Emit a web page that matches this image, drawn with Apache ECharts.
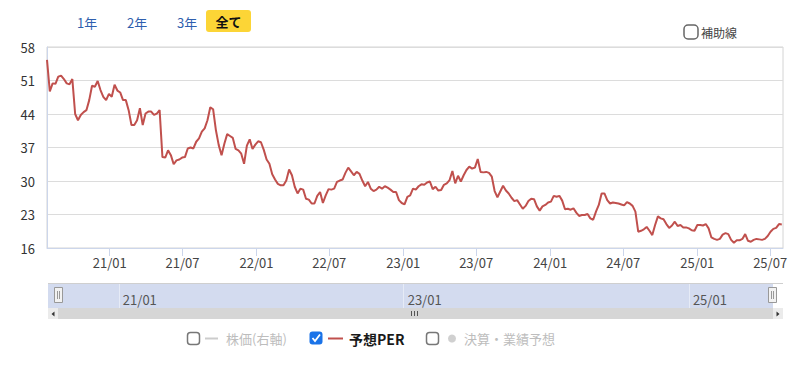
<!DOCTYPE html>
<html><head><meta charset="utf-8">
<script src="https://cdn.jsdelivr.net/npm/echarts@6/dist/echarts.min.js"></script>
<style>html,body{margin:0;padding:0;background:#fff}#c{width:800px;height:365px}</style>
</head><body><div id="c"></div>
<script>
// ---- data ----
const startDate = '2020-07-29';
const stepDays = 7; // weekly readings
const perValues = [
 55.3,48.7,50.4,50.3,51.8,52.0,51.3,50.4,50.2,51.3,
 44.0,42.7,43.8,44.4,44.8,46.9,49.9,49.7,50.9,49.0,
 47.6,46.9,48.2,47.6,50.1,48.9,48.5,46.9,46.9,44.8,
 41.7,41.7,42.7,45.2,41.7,44.1,44.5,44.5,43.8,44.1,
 44.8,35.0,34.9,36.4,35.4,33.5,34.3,34.5,34.9,35.0,
 36.8,37.0,36.8,38.2,38.9,40.3,41.0,42.7,45.4,45.0,
 40.6,37.5,35.4,37.8,39.8,39.4,39.0,
 36.7,36.4,35.7,33.6,37.4,38.7,36.7,37.6,38.3,38.1,
 36.5,34.5,33.6,31.4,30.3,29.4,29.1,29.1,30.1,32.4,
 31.2,28.8,27.4,28.4,28.2,26.3,26.1,25.3,25.3,26.9,
 27.7,25.4,27.0,28.3,28.2,28.4,29.8,30.1,30.3,31.7,
 32.8,32.0,31.2,31.9,31.5,30.1,28.9,29.8,28.4,27.9,
 28.2,28.8,28.4,28.9,28.6,28.2,27.7,27.7,26.0,25.4,
 25.1,26.7,27.0,28.4,28.2,28.9,
 29.3,29.2,29.7,29.9,28.3,28.8,28.0,28.1,29.2,29.5,
 30.2,32.1,29.5,31.1,29.9,31.2,32.3,33.0,32.6,32.8,
 34.6,31.9,31.8,31.9,31.7,30.9,27.9,26.6,27.8,29.0,
 28.0,27.4,26.5,25.8,26.0,25.1,24.2,24.8,25.8,26.3,
 26.2,24.7,23.8,24.7,25.0,25.5,25.7,26.9,26.7,26.9,
 25.9,24.1,24.2,24.0,24.3,23.4,22.7,22.9,22.9,23.1,
 22.2,21.9,23.6,25.0,27.4,
 27.4,26.0,25.3,25.5,25.4,25.3,25.1,24.9,25.6,25.3,
 24.8,23.6,19.4,19.6,19.9,20.4,19.6,18.7,20.8,22.6,
 22.2,22.0,21.0,20.2,20.7,21.5,20.6,20.8,20.3,20.3,
 20.1,19.7,19.6,20.8,20.8,20.7,21.0,20.1,18.2,17.9,
 17.7,17.9,18.8,19.1,18.9,17.7,17.1,17.6,17.6,17.9,
 18.9,17.5,17.3,17.7,17.9,17.8,17.7,17.9,18.5,19.4,
 20.0,20.2,21.0,20.9
];
const axisMin = '2020-07-29';
const axisMax = '2025-08-02';
const yMin = 16, yMax = 58, yStep = 7;
const xTickDates = ['2021-01-01','2021-07-01','2022-01-01','2022-07-01','2023-01-01','2023-07-01','2024-01-01','2024-07-01','2025-01-01','2025-07-01'];
const navTickDates = ['2021-01-01','2023-01-01','2025-01-01'];
const rangeButtons = ['1年','2年','3年','全て'];
const auxLabel = '補助線';
const legendLabels = ['株価(右軸)','予想PER','決算・業績予想'];
const seriesName = '予想PER';

// ---- helpers ----
const FONT = '"Noto Sans CJK JP","Noto Sans",sans-serif';
function ts(s){const p=s.split('-').map(Number);return new Date(p[0],p[1]-1,p[2]).getTime();}
const s0 = startDate.split('-').map(Number);
const perData = perValues.map((v,i)=>[new Date(s0[0],s0[1]-1,s0[2]+stepDays*i).getTime(), v]);
const fmt = v => { const d=new Date(v); return String(d.getFullYear()).slice(2)+'/'+String(d.getMonth()+1).padStart(2,'0'); };
const xTicks = xTickDates.map(ts);
const navTicks = navTickDates.map(ts);

function txt(x,y,t,o){
  o=o||{};
  return {type:'text',x:x,y:y,z:o.z||10,style:{text:t,fill:o.fill||'#333',font:(o.weight||'normal')+' '+(o.size||13)+'px '+FONT,textAlign:o.align||'left',textVerticalAlign:'middle'}};
}
function box(x,y,w,h,o){
  return {type:'rect',z:o.z||10,shape:{x:x,y:y,width:w,height:h,r:o.r||0},style:{fill:o.fill||'none',stroke:o.stroke||null,lineWidth:o.lw||1}};
}
function ln(x1,y1,x2,y2,c,w,z){return {type:'line',z:z||10,shape:{x1:x1,y1:y1,x2:x2,y2:y2},style:{stroke:c,lineWidth:w||1}};}

const g = [];
// range selector
g.push(box(206,10,45,22,{r:3,fill:'#fcd536'}));
g.push(txt(77,22,rangeButtons[0],{fill:'#2f5fae'}));
g.push(txt(127,22,rangeButtons[1],{fill:'#2f5fae'}));
g.push(txt(177,22,rangeButtons[2],{fill:'#2f5fae'}));
g.push(txt(228.5,21.5,rangeButtons[3],{fill:'#111',weight:'bold',align:'center'}));
// aux-line checkbox
g.push(box(684,25,14,14,{r:4,fill:'#fff',stroke:'#666',lw:1.5}));
g.push(txt(701,32,auxLabel,{fill:'#444',size:12}));
// navigator
g.push(box(48,283,725,25,{fill:'#d3dbef',z:-5}));
g.push(ln(48,283.5,783,283.5,'#cfcfcf',1,1));
// handles
[[54,287],[768,287]].forEach(p=>{
  g.push(box(p[0]+0.5,p[1]+0.5,8,15,{fill:'#f2f2f2',stroke:'#999',z:12}));
  g.push(ln(p[0]+3.5,p[1]+4,p[0]+3.5,p[1]+12,'#999',1,13));
  g.push(ln(p[0]+5.5,p[1]+4,p[0]+5.5,p[1]+12,'#999',1,13));
});
// scrollbar
g.push(box(48,308,735,11,{fill:'#d6d6d6',z:1}));
g.push(box(48,308,10,11,{fill:'#ebebeb',z:2}));
g.push(box(773,308,10,11,{fill:'#ebebeb',z:2}));
g.push({type:'polygon',z:3,shape:{points:[[54.5,311.5],[54.5,316.5],[51.5,314]]},style:{fill:'#333'}});
g.push({type:'polygon',z:3,shape:{points:[[776.5,311.5],[776.5,316.5],[779.5,314]]},style:{fill:'#333'}});
[411.5,414.5,417.5].forEach(x=>g.push(ln(x,311,x,316,'#555',1,3)));
// bottom legend
g.push(box(187.5,332.5,12,12,{r:3,fill:'#fff',stroke:'#777',lw:1.5}));
g.push(ln(205,338.5,218,338.5,'#cccccc',2));
g.push(txt(226,338.5,legendLabels[0],{fill:'#bdbdbd'}));
g.push(box(309.5,331.5,13,13,{r:3,fill:'#1a73e8'}));
g.push({type:'polyline',z:11,shape:{points:[[312.5,338],[315,341],[320,334.5]]},style:{stroke:'#fff',lineWidth:1.8,fill:'none'}});
g.push(ln(328,338.5,343,338.5,'#c0504d',2));
g.push(txt(349,338.5,legendLabels[1],{fill:'#1a1a1a',weight:'bold',size:14}));
g.push(box(426.5,332.5,12,12,{r:3,fill:'#fff',stroke:'#777',lw:1.5}));
g.push({type:'circle',z:10,shape:{cx:452,cy:338.5,r:4},style:{fill:'#d0d0d0'}});
g.push(txt(464,338.5,legendLabels[2],{fill:'#bdbdbd'}));

const chart = echarts.init(document.getElementById('c'), null, {renderer:'svg'});
chart.setOption({
  animation:false,
  textStyle:{fontFamily:FONT},
  grid:[
    {left:47,right:17,top:47,bottom:117,show:true,borderColor:'#d4d4d4',borderWidth:1,backgroundColor:'transparent'},
    {left:58,right:28,top:283,height:25}
  ],
  xAxis:[
    {type:'value',gridIndex:0,min:ts(axisMin),max:ts(axisMax),scale:true,
     axisLine:{show:true,lineStyle:{color:'#ccd6eb'}},
     axisTick:{show:true,customValues:xTicks,length:8,lineStyle:{color:'#ccd6eb'}},
     axisLabel:{customValues:xTicks,formatter:fmt,color:'#444',fontSize:13,margin:8,fontFamily:FONT,showMinLabel:true,showMaxLabel:true},
     splitLine:{show:false}},
    {type:'value',gridIndex:1,min:ts(axisMin),max:ts(axisMax),scale:true,
     axisLine:{show:false},
     axisTick:{show:true,inside:true,length:25,customValues:navTicks,lineStyle:{color:'#e6ebf6'}},
     axisLabel:{show:true,inside:true,customValues:navTicks,formatter:fmt,align:'left',padding:[0,0,0,4],color:'#555',fontSize:13,margin:2,fontFamily:FONT},
     splitLine:{show:false}}
  ],
  yAxis:[
    {type:'value',gridIndex:0,min:yMin,max:yMax,interval:yStep,
     axisLine:{show:true,lineStyle:{color:'#ccd6eb'}},
     axisTick:{show:false},
     axisLabel:{color:'#333',fontSize:13,margin:12,fontFamily:FONT},
     splitLine:{show:true,lineStyle:{color:'#dcdcdc'}}},
    {type:'value',gridIndex:1,show:false,min:0,max:1}
  ],
  series:[
    {name:seriesName,type:'line',xAxisIndex:0,yAxisIndex:0,data:perData,showSymbol:false,
     lineStyle:{color:'#c0504d',width:2},itemStyle:{color:'#c0504d'}}
  ],
  graphic:{elements:g}
});
</script>
</body></html>
